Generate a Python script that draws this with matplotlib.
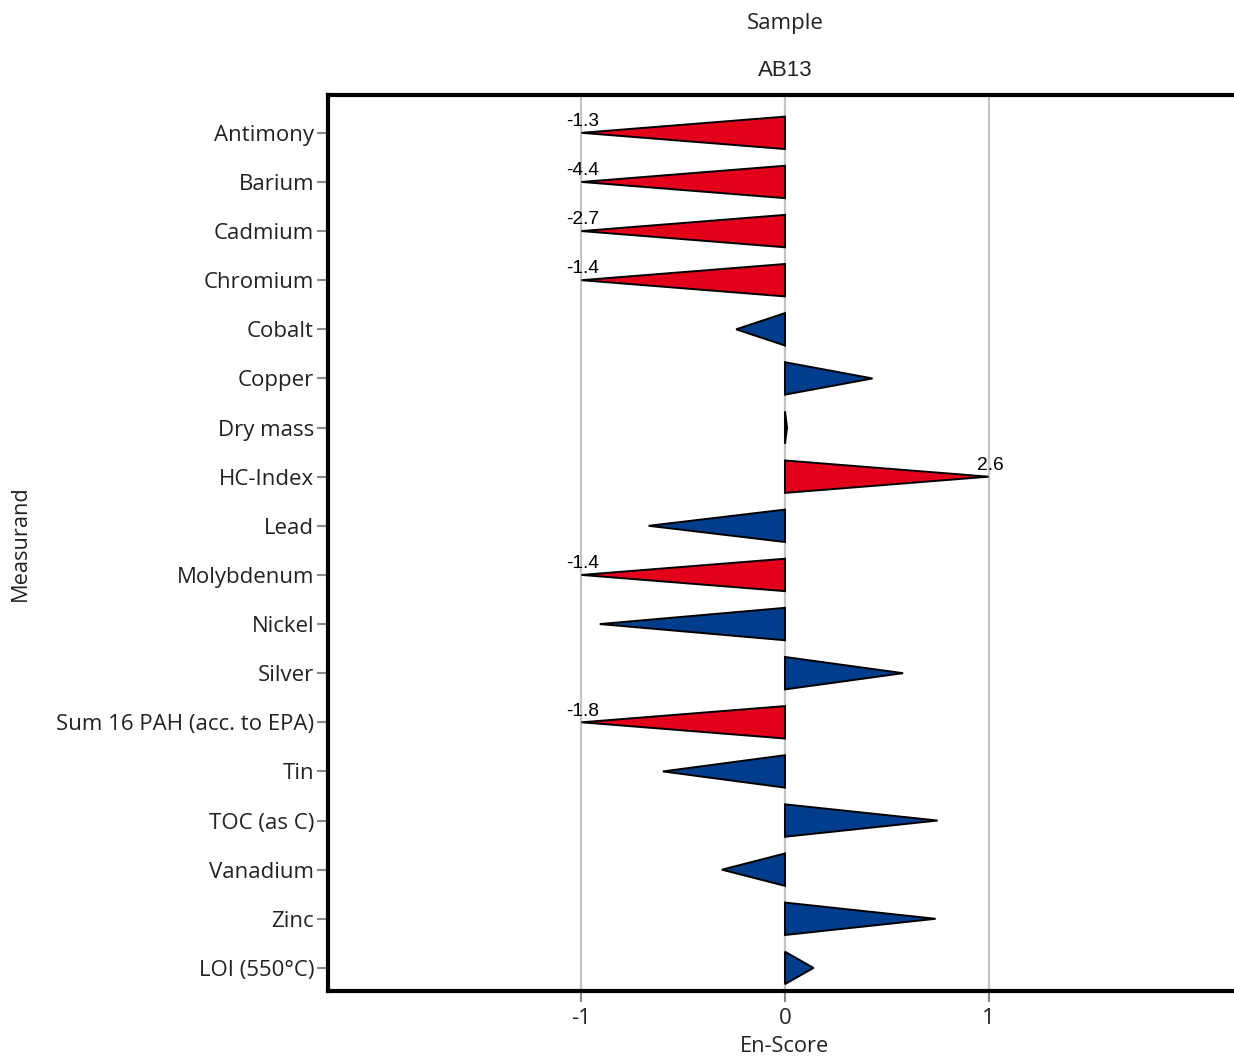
import matplotlib
matplotlib.use("Agg")
import matplotlib.pyplot as plt
from matplotlib.patches import Polygon

measurands = [
    "Antimony", "Barium", "Cadmium", "Chromium", "Cobalt", "Copper",
    "Dry mass", "HC-Index", "Lead", "Molybdenum", "Nickel", "Silver",
    "Sum 16 PAH (acc. to EPA)", "Tin", "TOC (as C)", "Vanadium", "Zinc",
    "LOI (550°C)",
]
en_scores = [
    -1.3, -4.4, -2.7, -1.4, -0.24, 0.43,
    0.01, 2.6, -0.67, -1.4, -0.91, 0.58,
    -1.8, -0.60, 0.75, -0.31, 0.74,
    0.14,
]
x_ticks = [-1, 0, 1]
sample_name = "AB13"

RED = "#E2001A"
BLUE = "#003D8C"
GRID = "#c4c4c4"
TEXT = "#222222"
SANS = "Open Sans"

W, H, DPI = 1234, 1059, 100
fig = plt.figure(figsize=(W / DPI, H / DPI), dpi=DPI)

# plot area in pixels (right edge runs past the canvas)
left_px, right_px, top_px, bottom_px = 328, 1242, 95, 991
ax = fig.add_axes([left_px / W, 1 - bottom_px / H,
                   (right_px - left_px) / W, (bottom_px - top_px) / H])

xlim = 2.245
ax.set_xlim(-xlim, xlim)
ax.set_ylim(17.47, -0.77)

for xv in x_ticks:
    ax.axvline(xv, color=GRID, lw=1.6, zorder=0)

half = 0.33
for i, (name, v) in enumerate(zip(measurands, en_scores)):
    capped = max(-1.0, min(1.0, v))
    color = RED if abs(v) > 1 else BLUE
    tri = Polygon([(0, i - half), (0, i + half), (capped, i)], closed=True,
                  facecolor=color, edgecolor="black", lw=1.4,
                  joinstyle="miter", zorder=3)
    ax.add_patch(tri)
    if abs(v) > 1:
        ax.annotate(f"{v:.1f}", xy=(capped, i), xytext=(1, 2),
                    textcoords="offset points", ha="center", va="bottom",
                    fontsize=13.8, family="Liberation Sans", zorder=4)

ax.set_yticks(range(len(measurands)))
ax.set_yticklabels(measurands, fontsize=16, family=SANS, color=TEXT)
ax.set_xticks(x_ticks)
ax.set_xticklabels([str(t) for t in x_ticks], fontsize=16, family=SANS,
                   color=TEXT)
ax.tick_params(axis="both", direction="out", length=8, width=1.5,
               color="#888888", pad=2)
ax.tick_params(axis="x", pad=4)

for side in ("left", "top", "bottom"):
    ax.spines[side].set_linewidth(3)
    ax.spines[side].set_color("black")
ax.spines["right"].set_visible(False)

# headers and axis titles centred on the zero line
x0 = 785 / W
fig.text(x0, 1 - 23 / H, "Sample", ha="center", va="center",
         fontsize=16, family=SANS, color=TEXT)
fig.text(x0, 1 - 71 / H, sample_name, ha="center", va="center",
         fontsize=16, family="Liberation Sans", color=TEXT)
fig.text(x0, 1 - 1047 / H, "En-Score", ha="center", va="center",
         fontsize=15.7, family=SANS, color=TEXT)
fig.text(20 / W, 1 - 543 / H, "Measurand", ha="center", va="center",
         rotation=90, fontsize=15.7, family=SANS, color=TEXT)

fig.savefig("out.png", dpi=DPI)
